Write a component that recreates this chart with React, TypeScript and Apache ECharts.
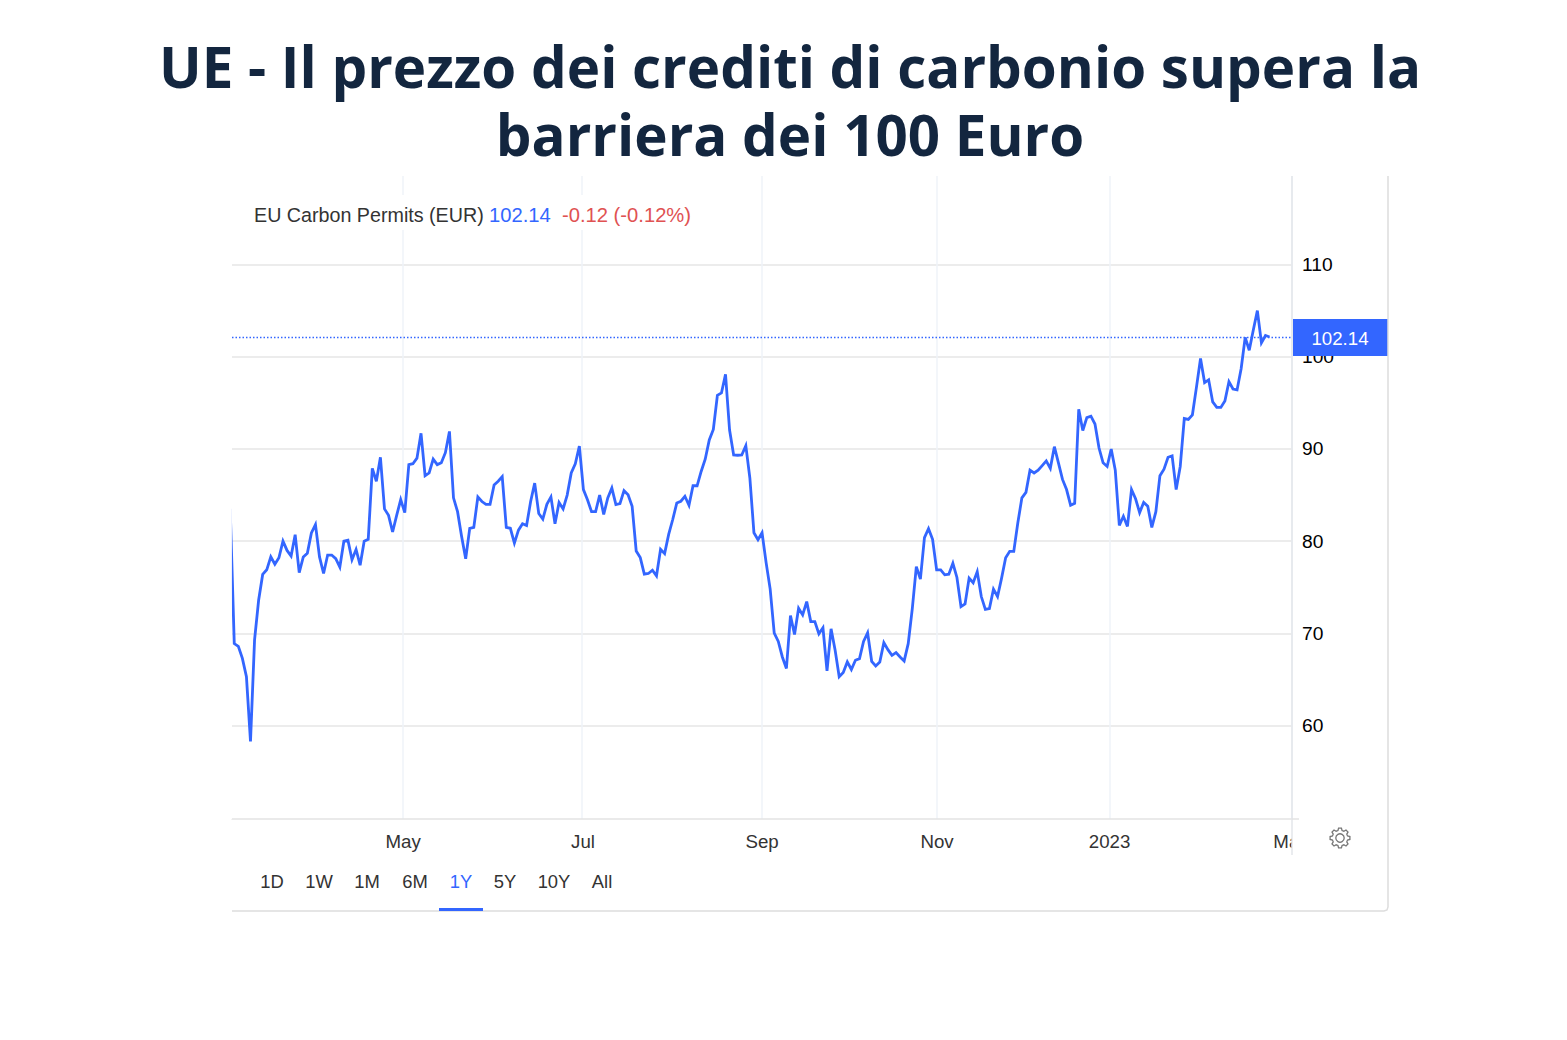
import React, { useEffect, useRef } from "react";
import * as echarts from "echarts";

const titleText = "UE - Il prezzo dei crediti di carbonio supera la\nbarriera dei 100 Euro";
const seriesName = "EU Carbon Permits (EUR)";
const lastValue = 102.14;
const changeText = "-0.12 (-0.12%)";
const rangeButtons = ["1D", "1W", "1M", "6M", "1Y", "5Y", "10Y", "All"];
const rangeCenters = [272, 319, 367, 415, 461, 505, 554, 602];
const activeRange = "1Y";
const yTicks = [60, 70, 80, 90, 100, 110];
const monthTickPositions = [42.56, 86.65, 130.99, 174.09, 216.7, 261.53];
const monthLabelPositions = [42.6, 86.9, 131, 174.1, 216.6, 260.9];
const monthTickLabels = ["May", "Jul", "Sep", "Nov", "2023", "Mar"];

const springValues = [
  83.5, 68.9, 68.6, 67.3, 65.3, 58.3, 69.3, 73.6, 76.4, 76.9,
  78.3, 77.5, 78.2, 80, 79, 78.4, 80.7, 76.6, 78.3, 78.7,
  80.9, 81.8, 78.3, 76.5, 78.5, 78.5, 78.1, 77.2, 80, 80.1,
  78, 79.1, 77.4, 80, 80.2, 87.9, 86.5, 89.1, 83.5, 82.8,
  81, 82.8, 84.5, 83.1, 88.3, 88.4, 89, 91.7, 87.1, 87.4,
  88.9, 88.3, 88.5, 89.6, 91.9, 84.7, 83.2, 80.5, 78.1, 81.4,
  81.5, 84.8, 84.3, 84, 84, 86.1, 86.5, 87, 81.5, 81.4,
  79.8, 81.2, 81.9, 81.7, 84.3, 86.3, 83, 82.4, 84, 84.8,
  81.9, 84.2, 83.5, 85, 87.4, 88.4, 90.3, 85.6, 84.5, 83.2,
  83.2, 85, 82.9, 84.7,
];
const summerValues = [
  85.76, 83.97, 84.08, 85.48, 85.04, 83.79, 78.94, 78.22, 76.43, 76.5,
  76.86, 76.25, 79.12, 78.65, 80.74, 82.35, 84.15, 84.33, 84.87, 83.9,
  86.01, 86.01, 87.56, 88.89, 90.97, 92.12, 95.82, 96.07, 98.08, 92.05,
  89.35, 89.32, 89.35, 90.36, 86.84, 80.92, 80.16, 80.92, 77.68, 74.81,
  70.04, 69.14, 67.45, 66.2, 71.94, 69.89, 72.73, 72.01, 73.45, 71.29,
  71.29, 69.96, 70.61, 65.94, 70.5, 68.17, 65.3, 65.76, 66.91, 66.09,
  67.09, 67.27, 69.14, 70.07, 66.98, 66.48, 66.91, 69, 68.24, 67.63,
  67.92, 67.45, 67.02, 68.89, 72.66, 77.25, 75.89, 80.38, 81.35, 80.2,
  76.89, 76.89, 76.36, 76.43, 77.61, 76.07, 72.9,
];
const autumnValues = [
  73.2, 76, 75.5, 76.7, 74, 72.6, 72.7, 74.8, 74, 76,
  78.2, 78.9, 78.9, 82, 84.7, 85.3, 87.7, 87.4, 87.7, 88.2,
  88.7, 87.9, 90.25, 88.5, 86.7, 85.6, 83.9, 84.1, 94.3, 92,
  93.4, 93.55, 92.7, 90.1, 88.5, 88.1, 90, 87.7, 81.7, 82.7,
  81.6, 85.6, 84.6, 83.1, 84.2, 83.8, 81.5, 83.2, 87.1, 87.8,
  89.1, 89.25, 85.6, 88.1, 93.3, 93.2, 93.7, 96.7, 99.8, 97.2,
  97.5, 95.1, 94.5, 94.5, 95.2, 97.3, 96.5, 96.4, 98.7, 102.1,
  100.7, 102.9, 105, 101.5, 102.3, 102.14,
];

const BLUE = "#3366ff";
const SANS = "'Liberation Sans', Arial, sans-serif";

function gearPath(teeth: number, rOut: number, rIn: number) {
  let d = "";
  const step = (Math.PI * 2) / teeth;
  for (let i = 0; i < teeth; i++) {
    const a = i * step;
    const pts = [
      [rIn, a - step * 0.34],
      [rOut, a - step * 0.18],
      [rOut, a + step * 0.18],
      [rIn, a + step * 0.34],
    ];
    for (const [r, t] of pts) {
      d += `${d ? "L" : "M"}${(r * Math.cos(t)).toFixed(2)} ${(r * Math.sin(t)).toFixed(2)} `;
    }
  }
  return d + "Z";
}
echarts.graphic.registerShape("gear", echarts.graphic.extendPath(gearPath(8, 10, 7.8) as any, {}) as any);

export default function App() {
  const ref = useRef<HTMLDivElement>(null);
  useEffect(() => {
    const chart = echarts.init(ref.current!, undefined, { renderer: "svg" });
    const values = [...springValues, ...summerValues, ...autumnValues];
    const points = values.map((v, i) => [i, v]);
    const labelText = (t: string, x: number, y: number, fill: string, size: number, extra: any = {}) => ({
      type: "text",
      z: 101,
      x,
      y,
      style: { text: t, fill, font: `${size}px ${SANS}`, textVerticalAlign: "middle", ...extra },
    });
    chart.setOption({
      animation: false,
      backgroundColor: "#ffffff",
      title: {
        text: titleText,
        left: 785,
        top: 27,
        textAlign: "center",
        textStyle: {
          fontFamily: "'Open Sans'",
          fontWeight: 700,
          fontSize: 56.5,
          lineHeight: 68,
          color: "#13263f",
        },
      },
      grid: { left: 232, width: 1060, top: 176, height: 643, containLabel: false },
      xAxis: {
        type: "value",
        min: 0.443,
        max: 261.53,
        axisLine: { show: true, lineStyle: { color: "#e3e3e3", width: 1.5 } },
        axisTick: { show: false, customValues: monthTickPositions },
        axisLabel: {
          customValues: monthLabelPositions,
          formatter: (v: number) => monthTickLabels[monthLabelPositions.indexOf(v)] ?? "",
          color: "#333333",
          fontFamily: SANS,
          fontSize: 18.7,
          margin: 13,
          showMinLabel: true,
          showMaxLabel: true,
          hideOverlap: false,
        },
        splitLine: { show: true, lineStyle: { color: "#eff3f8", width: 1.5 } },
      },
      yAxis: {
        type: "value",
        position: "right",
        min: 49.885,
        max: 119.59,
        axisLine: { show: false },
        axisTick: { show: false, customValues: yTicks },
        axisLabel: {
          customValues: yTicks,
          color: "#000000",
          fontFamily: SANS,
          fontSize: 19.2,
          margin: 10,
        },
        splitLine: { show: true, lineStyle: { color: "#e6e6e6", width: 1.5 } },
      },
      series: [
        {
          type: "line",
          name: seriesName,
          data: points,
          showSymbol: false,
          symbol: "none",
          clip: true,
          lineStyle: { color: BLUE, width: 2.8, join: "miter" },
          markLine: {
            silent: true,
            symbol: "none",
            label: { show: false },
            data: [{ yAxis: lastValue, lineStyle: { color: BLUE, width: 1.3, type: [1.5, 2], opacity: 1 } }],
          },
        },
      ],
      graphic: [
        { type: "rect", z: 100, shape: { x: 226, y: 176, width: 5.9, height: 643 }, style: { fill: "#fff" } },
        { type: "rect", z: 100, shape: { x: 254, y: 195, width: 440, height: 35 }, style: { fill: "#fff" } },
        labelText(seriesName, 254, 214.5, "#333333", 19.7),
        labelText(String(lastValue), 489, 214.5, BLUE, 20.2),
        labelText(changeText, 562, 214.5, "#e05252", 20.2),
        { type: "rect", z: 100, shape: { x: 1293, y: 319, width: 95, height: 37 }, style: { fill: BLUE } },
        labelText(String(lastValue), 1340, 338, "#ffffff", 18.7, { textAlign: "center" }),
        { type: "rect", z: 100, shape: { x: 1292, y: 828, width: 30, height: 30 }, style: { fill: "#fff" } },
        { type: "line", z: 100, shape: { x1: 1292, y1: 176, x2: 1292, y2: 855 }, style: { stroke: "#e3e6ea", lineWidth: 1.5 } },
        { type: "line", z: 100, shape: { x1: 1292, y1: 819, x2: 1299, y2: 819 }, style: { stroke: "#e3e3e3", lineWidth: 1.5 } },
        {
          type: "polyline",
          z: 100,
          shape: { points: [[232, 911], [1384, 911], [1387, 910], [1388, 907], [1388, 176]] },
          style: { stroke: "#dddddd", lineWidth: 1.5, fill: "none" },
        },
        ...rangeButtons.map((b, i) =>
          labelText(b, rangeCenters[i], 881, b === activeRange ? BLUE : "#333333", 18.4, { textAlign: "center" })
        ),
        { type: "rect", z: 101, shape: { x: 439, y: 908, width: 44, height: 3 }, style: { fill: BLUE } },
        { type: "gear", z: 101, x: 1340, y: 838, style: { fill: "none", stroke: "#777777", lineWidth: 1.3 } },
        { type: "circle", z: 101, shape: { cx: 1340, cy: 838, r: 4.2 }, style: { fill: "none", stroke: "#777777", lineWidth: 1.3 } },
      ],
    });
    return () => chart.dispose();
  }, []);
  return <div ref={ref} style={{ position: "absolute", left: 0, top: 0, width: 1567, height: 1040 }} />;
}
